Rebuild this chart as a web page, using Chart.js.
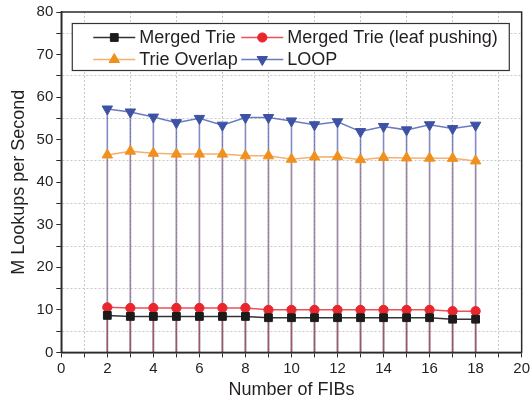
<!DOCTYPE html>
<html>
<head>
<meta charset="utf-8">
<script src="https://cdn.jsdelivr.net/npm/chart.js"></script>
<style>
  html, body { margin: 0; padding: 0; background: #fff; }
  #wrap { width: 532px; height: 403px; }
</style>
</head>
<body>
<div id="wrap"><canvas id="chart" width="532" height="403"></canvas></div>
<script>
// values
const fibs = [2, 3, 4, 5, 6, 7, 8, 9, 10, 11, 12, 13, 14, 15, 16, 17, 18];
const mergedTrie = [8.7, 8.45, 8.45, 8.45, 8.45, 8.45, 8.45, 8.15, 8.15, 8.15, 8.15, 8.15, 8.15, 8.15, 8.15, 7.8, 7.8];
const mergedTrieLeaf = [10.6, 10.45, 10.45, 10.45, 10.45, 10.45, 10.45, 10.0, 10.0, 10.0, 10.0, 10.0, 10.0, 10.0, 10.0, 9.7, 9.7];
const trieOverlap = [46.4, 47.3, 46.8, 46.6, 46.6, 46.6, 46.2, 46.2, 45.4, 45.95, 46.0, 45.3, 45.8, 45.7, 45.65, 45.6, 45.0];
const loop = [57.2, 56.5, 55.3, 54.0, 55.0, 53.4, 55.2, 55.2, 54.4, 53.5, 54.2, 51.9, 53.1, 52.3, 53.5, 52.6, 53.4];
const seriesNames = ['Merged Trie', 'Merged Trie (leaf pushing)', 'Trie Overlap', 'LOOP'];
const xTicks = [0, 2, 4, 6, 8, 10, 12, 14, 16, 18, 20];
const yTicks = [0, 10, 20, 30, 40, 50, 60, 70, 80];

const FONT = "'Liberation Sans', Arial, sans-serif";
const txtColor = '#231f20';
const axisColor = '#2b2b2b';

function pts(vals){ return fibs.map((f, i) => ({x: f, y: vals[i]})) }

const styles = [
  {color: '#1b1b1b', drop: 'rgba(90,50,50,0.25)', point: 'rect', radius: 5.5, rotation: 0},
  {color: '#e8262c', drop: 'rgba(190,60,70,0.4)', point: 'circle', radius: 4.6, rotation: 0},
  {color: '#f0901e', drop: 'rgba(210,140,100,0.3)', point: 'triangle', radius: 6, rotation: 0},
  {color: '#3d52a4', drop: 'rgba(70,75,160,0.65)', point: 'triangle', radius: 6, rotation: 180}
];
const lineColors = ['#333333', '#ec5158', '#f5b070', '#6a7cc0'];

const datasets = [mergedTrie, mergedTrieLeaf, trieOverlap, loop].map((vals, i) => ({
  label: seriesNames[i],
  data: pts(vals),
  borderColor: lineColors[i],
  borderWidth: 1.5,
  backgroundColor: styles[i].color,
  pointBackgroundColor: styles[i].color,
  pointBorderColor: styles[i].color,
  pointBorderWidth: 1,
  pointStyle: styles[i].point,
  pointRadius: styles[i].radius,
  pointRotation: styles[i].rotation,
  tension: 0
}));

// vertical drop lines from every point to y = 0
const dropLines = {
  id: 'dropLines',
  beforeDatasetsDraw(chart){
    const ctx = chart.ctx;
    const y0 = chart.scales.y.getPixelForValue(0);
    ctx.save();
    ctx.lineWidth = 1.6;
    [3, 2, 1, 0].forEach(di => {
      const meta = chart.getDatasetMeta(di);
      ctx.strokeStyle = styles[di].drop;
      meta.data.forEach(p => {
        ctx.beginPath();
        ctx.moveTo(p.x, p.y);
        ctx.lineTo(p.x, y0);
        ctx.stroke();
      });
    });
    ctx.restore();
  }
};

// closed frame round the plot and the boxed legend inside it
const frameLegend = {
  id: 'frameLegend',
  afterDraw(chart){
    const ctx = chart.ctx;
    const a = chart.chartArea;
    ctx.save();
    ctx.strokeStyle = axisColor;
    ctx.lineWidth = 1.5;
    ctx.strokeRect(a.left, a.top, a.right - a.left, a.bottom - a.top);

    const bx = a.left + 11, by = a.top + 11.5, bw = 437, bh = 47;
    ctx.fillStyle = '#fff';
    ctx.fillRect(bx, by, bw, bh);
    ctx.lineWidth = 1.2;
    ctx.strokeStyle = '#333';
    ctx.strokeRect(bx, by, bw, bh);

    const cols = [bx + 21, bx + 169];
    const rows = [by + 14, by + 36];
    ctx.font = '18px ' + FONT;
    ctx.textBaseline = 'middle';
    ctx.textAlign = 'left';
    chart.data.datasets.forEach((ds, i) => {
      const cx = cols[i % 2], cy = rows[Math.floor(i / 2)];
      ctx.strokeStyle = ds.borderColor;
      ctx.lineWidth = 1.5;
      ctx.beginPath();
      ctx.moveTo(cx, cy);
      ctx.lineTo(cx + 42, cy);
      ctx.stroke();
      ctx.fillStyle = ds.pointBackgroundColor;
      ctx.strokeStyle = ds.pointBorderColor;
      ctx.lineWidth = 1;
      Chart.helpers.drawPoint(ctx, {pointStyle: ds.pointStyle, radius: ds.pointRadius, rotation: ds.pointRotation, borderWidth: 1}, cx + 21, cy);
      ctx.fillStyle = txtColor;
      ctx.fillText(ds.label, cx + 46, cy + 1);
    });
    ctx.restore();
  }
};

const ctx = document.getElementById('chart');
const chart = new Chart(ctx, {
  type: 'line',
  data: { datasets: datasets },
  plugins: [dropLines, frameLegend],
  options: {
    responsive: false,
    animation: false,
    devicePixelRatio: 1,
    layout: { padding: {left: 8, right: 8, top: 10, bottom: 2} },
    plugins: { legend: {display: false}, tooltip: {enabled: false} },
    scales: {
      x: {
        type: 'linear',
        min: 0, max: 20,
        border: {color: axisColor, width: 1.5, dash: [2, 2]},
        grid: {
          color: c => (c.tick && c.tick.value % 2 !== 0) ? '#c8c8c8' : 'rgba(0,0,0,0)',
          tickColor: axisColor,
          tickBorderDash: [],
          tickLength: 5,
          lineWidth: 1
        },
        afterBuildTicks: s => { s.ticks = []; for (let v = 0; v <= 20; v++) s.ticks.push({value: v}); },
        ticks: {
          autoSkip: false,
          maxRotation: 0,
          padding: 2,
          color: txtColor,
          font: {family: FONT, size: 15},
          callback: v => xTicks.includes(v) ? String(v) : ''
        },
        title: {display: true, text: 'Number of FIBs', color: txtColor, font: {family: FONT, size: 18}, padding: {top: 0, bottom: 0}}
      },
      y: {
        min: 0, max: 80,
        border: {color: axisColor, width: 1.5, dash: [2, 2]},
        grid: {
          color: c => (c.tick && c.tick.value % 10 !== 0) ? '#c8c8c8' : 'rgba(0,0,0,0)',
          tickColor: axisColor,
          tickBorderDash: [],
          tickLength: 5,
          lineWidth: 1
        },
        afterBuildTicks: s => { s.ticks = []; for (let v = 0; v <= 80; v += 5) s.ticks.push({value: v}); },
        ticks: {
          autoSkip: false,
          padding: 3,
          color: txtColor,
          font: {family: FONT, size: 15},
          callback: v => yTicks.includes(v) ? String(v) : ''
        },
        title: {display: true, text: 'M Lookups per Second', color: txtColor, font: {family: FONT, size: 18}, padding: {top: 0, bottom: 4}}
      }
    }
  }
});
</script>
</body>
</html>
